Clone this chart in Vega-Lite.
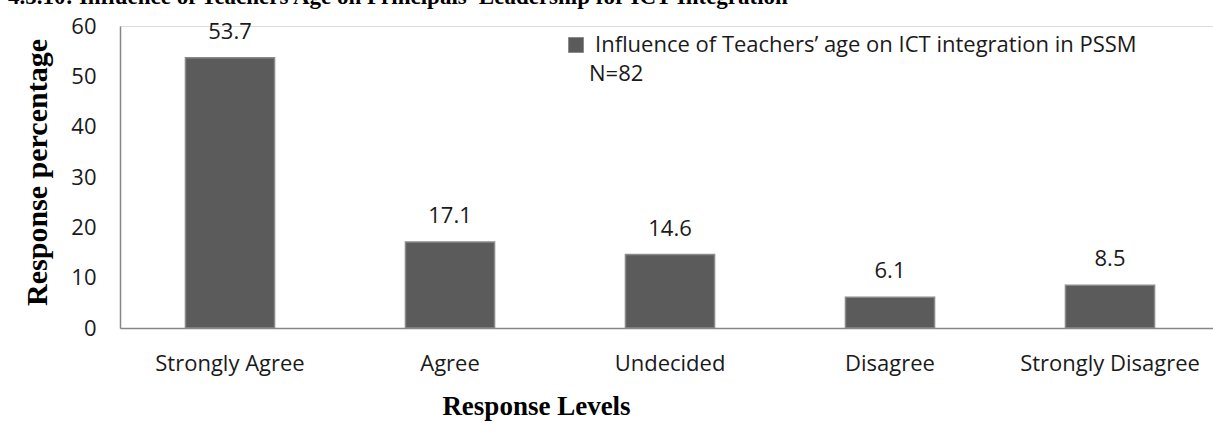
{
  "$schema": "https://vega.github.io/schema/vega-lite/v6.json",
  "autosize": {"type": "none"},
  "width": 1100,
  "height": 302,
  "padding": {"left": 120, "top": 26, "right": 0, "bottom": 104},
  "background": "white",
  "title": {
    "text": "4.5.10: Influence of Teachers Age on Principals' Leadership for ICT Integration",
    "anchor": "start",
    "frame": "group",
    "font": "Liberation Serif",
    "fontSize": 23,
    "fontWeight": "bold",
    "color": "#000000",
    "baseline": "alphabetic",
    "dx": -112,
    "dy": 12,
    "offset": 0
  },
  "data": {
    "values": [
      {"level": "Strongly Agree", "pct": 53.7, "series": "Influence of Teachers’ age on ICT integration in PSSM"},
      {"level": "Agree", "pct": 17.1, "series": "Influence of Teachers’ age on ICT integration in PSSM"},
      {"level": "Undecided", "pct": 14.6, "series": "Influence of Teachers’ age on ICT integration in PSSM"},
      {"level": "Disagree", "pct": 6.1, "series": "Influence of Teachers’ age on ICT integration in PSSM"},
      {"level": "Strongly Disagree", "pct": 8.5, "series": "Influence of Teachers’ age on ICT integration in PSSM"}
    ]
  },
  "encoding": {
    "x": {
      "field": "level",
      "type": "nominal",
      "sort": null,
      "scale": {"paddingInner": 0.595, "paddingOuter": 0.2975},
      "axis": {
        "title": "Response Levels",
        "titleFont": "Liberation Serif",
        "titleFontSize": 27,
        "titleFontWeight": "bold",
        "titleColor": "#000000",
        "titleX": 416,
        "titleY": 86,
        "titleAlign": "center",
        "titleBaseline": "alphabetic",
        "labelAngle": 0,
        "labelFont": "Open Sans",
        "labelFontSize": 22,
        "labelColor": "#1a1a1a",
        "labelPadding": 35,
        "labelBaseline": "middle",
        "ticks": false,
        "domainColor": "#868686",
        "domainWidth": 1.5,
        "grid": false
      }
    },
    "y": {
      "field": "pct",
      "type": "quantitative",
      "scale": {"domain": [0, 60], "nice": false},
      "axis": {
        "values": [0, 10, 20, 30, 40, 50, 60],
        "title": "Response percentage",
        "titleFont": "Liberation Serif",
        "titleFontSize": 30,
        "titleFontWeight": "bold",
        "titleColor": "#000000",
        "titleAngle": -90,
        "titleX": -74,
        "titleY": 146,
        "titleAlign": "center",
        "titleBaseline": "alphabetic",
        "labelFont": "Open Sans",
        "labelFontSize": 22,
        "labelColor": "#1a1a1a",
        "labelPadding": 24,
        "ticks": false,
        "domainColor": "#868686",
        "domainWidth": 1.5,
        "grid": false
      }
    }
  },
  "layer": [
    {
      "mark": {"type": "bar", "stroke": "#8a8a8a", "strokeWidth": 1.5},
      "encoding": {
        "color": {
          "field": "series",
          "type": "nominal",
          "scale": {"range": ["#5b5b5b"]},
          "legend": {
            "orient": "none",
            "legendX": 445,
            "legendY": 8,
            "title": "N=82",
            "titleOrient": "bottom",
            "titleFont": "Open Sans",
            "titleFontSize": 22,
            "titleFontWeight": "normal",
            "titleColor": "#1a1a1a",
            "titlePadding": 8,
            "labelFont": "Open Sans",
            "labelFontSize": 22,
            "labelColor": "#1a1a1a",
            "labelLimit": 800,
            "labelOffset": 8,
            "symbolType": "square",
            "symbolSize": 225,
            "symbolStrokeColor": "#8a8a8a",
            "symbolStrokeWidth": 1,
            "encode": {"title": {"update": {"dx": {"value": 24}}}}
          }
        }
      }
    },
    {
      "mark": {"type": "text", "font": "Open Sans", "fontSize": 22, "color": "#1a1a1a", "baseline": "alphabetic", "dy": -19},
      "encoding": {
        "text": {"field": "pct", "type": "quantitative", "format": ".1f"}
      }
    }
  ]
}
